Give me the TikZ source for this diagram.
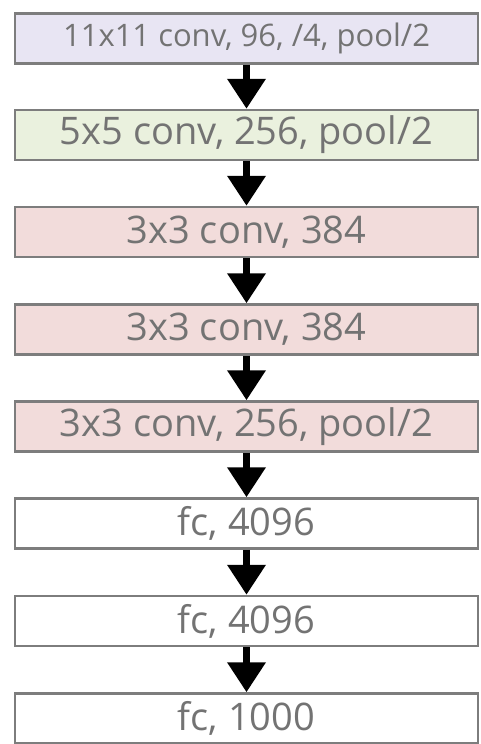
\documentclass[tikz,border=0pt]{standalone}
\usepackage{fontspec}
\setmainfont{Open Sans}
\usetikzlibrary{arrows.meta}
\definecolor{bordergray}{RGB}{125,125,125}
\definecolor{textgray}{RGB}{115,115,115}
\definecolor{lav}{RGB}{232,229,243}
\definecolor{lgreen}{RGB}{234,241,222}
\definecolor{lred}{RGB}{242,220,219}
\tikzset{
  layer/.style={draw=bordergray, line width=2.5pt, minimum width=463pt, minimum height=50pt,
    inner sep=0pt, text=textgray, font=\fontsize{38}{40}\selectfont},
  flow/.style={line width=7pt, -{Triangle[length=30pt,width=37pt]}}
}
\begin{document}
\begin{tikzpicture}[x=1pt,y=1pt]
\useasboundingbox (0,0) rectangle (481,-744);
\fill[white] (0,0) rectangle (481,-744);
\node[layer, fill=lav, font=\fontsize{31}{33}\selectfont] (b1) at (246.5,-38.5) {11x11 conv, 96, /4, pool/2};
\node[layer, fill=lgreen] (b2) at (246.5,-135) {5x5 conv, 256, pool/2};
\node[layer, fill=lred] (b3) at (246.5,-232) {3x3 conv, 384};
\node[layer, fill=lred] (b4) at (246.5,-329.5) {3x3 conv, 384};
\node[layer, fill=lred] (b5) at (246.5,-426.5) {3x3 conv, 256, pool/2};
\node[layer, fill=white] (b6) at (246.5,-523.5) {fc, 4096};
\node[layer, fill=white] (b7) at (246.5,-621) {fc, 4096};
\node[layer, fill=white] (b8) at (246.5,-718.5) {fc, 1000};
\foreach \a/\b in {b1/b2,b2/b3,b3/b4,b4/b5,b5/b6,b6/b7,b7/b8}
  \draw[flow] (\a.south) -- (\b.north);
\end{tikzpicture}
\end{document}
